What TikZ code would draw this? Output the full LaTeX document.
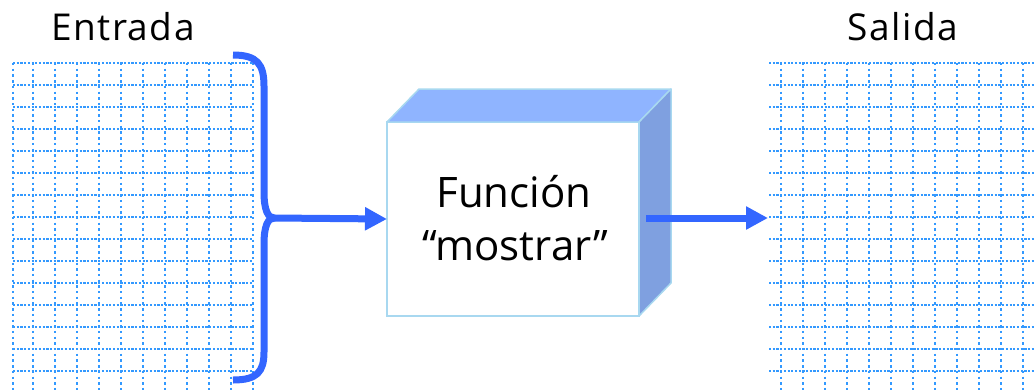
\documentclass[tikz,border=0pt]{standalone}
\usepackage{fontspec}
\setmainfont{Open Sans}
\newfontfamily\labfont[LetterSpace=4]{Open Sans}
\usetikzlibrary{arrows.meta}
\definecolor{gridblue}{HTML}{3399FF}
\definecolor{bracecol}{HTML}{3366FF}
\definecolor{topface}{HTML}{8FB4FF}
\definecolor{sideface}{HTML}{7FA0E0}
\definecolor{edgecol}{HTML}{A8D8F0}
\tikzset{
  hgrid/.style={gridblue, line width=1.6pt, dash pattern=on 2.2pt off 1.5pt},
  vgrid/.style={gridblue, line width=1.6pt, dash pattern=on 2.4pt off 3.3pt},
  bluestroke/.style={bracecol, line width=7pt},
  tipped/.style={-{Triangle[length=22pt,width=22pt]}},
  lbltext/.style={font=\labfont\fontsize{37}{42}\selectfont, anchor=base, inner sep=0pt},
  boxtext/.style={font=\fontsize{42}{53}\selectfont, anchor=base, inner sep=0pt},
  facebox/.style={draw=edgecol, line width=1.5pt, fill=white, minimum width=252pt, minimum height=194pt, inner sep=0pt, outer sep=0pt},
}
\begin{document}
\begin{tikzpicture}[x=1pt,y=-1pt]
\useasboundingbox (0,0) rectangle (1035,391);
% left grid
\foreach \k in {0,...,14} { \draw[hgrid] (13,63+22*\k) -- (253,63+22*\k); }
\draw[vgrid] (13,63) -- (13,391);
\foreach \k in {0,...,10} { \draw[vgrid] (33+22*\k,63) -- (33+22*\k,391); }
% right grid
\foreach \k in {0,...,14} { \draw[hgrid] (769,63+22*\k) -- (1035,63+22*\k); }
\foreach \k in {0,...,11} { \draw[vgrid] (781+22*\k,63) -- (781+22*\k,391); }
% labels
\node[lbltext] (entrada) at (123,40) {Entrada};
\node[lbltext] (salida) at (903,40) {Salida};
% box
\node[facebox] (box) at (513,219) {};
\filldraw[fill=topface, draw=edgecol, line width=1.5pt, line join=round]
  (box.north west) -- ++(32,-33) -- ++(252,0) -- (box.north east) -- cycle;
\filldraw[fill=sideface, draw=edgecol, line width=1.5pt, line join=round]
  (box.north east) -- ++(32,-33) -- ++(0,194) -- (box.south east) -- cycle;
\node[boxtext] (fn) at (514,207) {Función};
\node[boxtext] (ms) at (515,260) {“mostrar”};
% brace
\coordinate (cusp) at (274,218);
\draw[bluestroke, line join=round]
  (233,55) .. controls (257,55) and (264,64) .. (264,86) -- (264,192)
  .. controls (264,210) and (268,218) .. (cusp)
  .. controls (268,218) and (264,226) .. (264,244) -- (264,352)
  .. controls (264,372) and (257,380) .. (233,380);
\draw[bluestroke, tipped] (cusp) -- (box.west);
% output arrow
\coordinate (outp) at (646,218);
\coordinate (salin) at (768,218);
\draw[bluestroke, tipped] (outp) -- (salin);
\end{tikzpicture}
\end{document}
